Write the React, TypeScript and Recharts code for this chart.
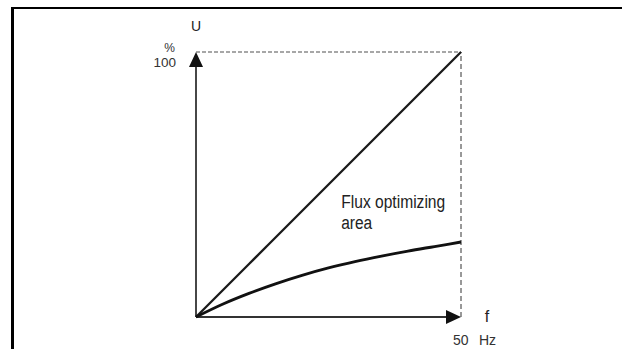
import {
  LineChart,
  Line,
  XAxis,
  YAxis,
  ReferenceLine,
  ReferenceDot,
} from "recharts";

// frequency in Hz, voltage in % of nominal
const frequency = [0, 5, 10, 15, 20, 25, 30, 35, 40, 45, 50];
const linearU = [0, 10, 20, 30, 40, 50, 60, 70, 80, 90, 100];
const fluxOptimizedU = [0, 4.8, 8.9, 12.5, 15.7, 18.5, 20.9, 23.0, 24.9, 26.6, 28.3];

const maxFreq = 50;
const maxU = 100;

const data = frequency.map((f, i) => ({
  f,
  linear: linearU[i],
  flux: fluxOptimizedU[i],
}));

const labelFont = "'Liberation Sans', Arial, sans-serif";

const UpArrow = ({ cx, cy }: any) => (
  <g>
    <polygon points={`${cx},${cy} ${cx - 7},${cy + 15} ${cx + 7},${cy + 15}`} fill="#111" />
    <text x={cx} y={cy - 21} textAnchor="middle" fontSize={14} fill="#222" fontFamily={labelFont}>
      U
    </text>
    <text x={cx - 21} y={cy} textAnchor="end" fontSize={12} fill="#333" fontFamily={labelFont}>
      %
    </text>
    <text x={cx - 20} y={cy + 15} textAnchor="end" fontSize={13.5} fill="#333" fontFamily={labelFont}>
      {maxU}
    </text>
  </g>
);

const RightArrow = ({ cx, cy }: any) => (
  <g>
    <polygon points={`${cx},${cy} ${cx - 15},${cy - 7} ${cx - 15},${cy + 7}`} fill="#111" />
    <text x={cx + 26} y={cy + 5} textAnchor="middle" fontSize={16} fill="#222" fontFamily={labelFont}>
      f
    </text>
    <text x={cx - 8} y={cy + 28} textAnchor="start" fontSize={14} fill="#333" fontFamily={labelFont}>
      {maxFreq}
    </text>
    <text x={cx + 18} y={cy + 28} textAnchor="start" fontSize={14} fill="#333" fontFamily={labelFont}>
      Hz
    </text>
  </g>
);

const AreaNote = ({ cx, cy }: any) => (
  <g fontFamily={labelFont} fontSize={18} fill="#222">
    <text x={cx} y={cy} textLength={104} lengthAdjust="spacingAndGlyphs">
      Flux optimizing
    </text>
    <text x={cx} y={cy + 21} textLength={31} lengthAdjust="spacingAndGlyphs">
      area
    </text>
  </g>
);

export default function App() {
  return (
    <div
      style={{
        position: "absolute",
        left: 0,
        top: 0,
        width: 622,
        height: 349,
        background: "#fff",
        overflow: "hidden",
      }}
    >
      <div
        style={{
          position: "absolute",
          left: 11,
          top: 7,
          right: -5,
          bottom: -5,
          borderTop: "2px solid #000",
          borderLeft: "3px solid #000",
        }}
      />
      <LineChart
        width={622}
        height={349}
        data={data}
        margin={{ top: 52, right: 161, bottom: 32, left: 196 }}
        style={{ position: "absolute", left: 0, top: 0 }}
      >
        <XAxis dataKey="f" type="number" domain={[0, maxFreq]} hide />
        <YAxis type="number" domain={[0, maxU]} hide />

        {/* dashed guides at 100 % and 50 Hz */}
        <ReferenceLine
          segment={[
            { x: 0, y: maxU },
            { x: maxFreq, y: maxU },
          ]}
          stroke="#8a8a8a"
          strokeWidth={1.5}
          strokeDasharray="4 2"
        />
        <ReferenceLine
          segment={[
            { x: maxFreq, y: 0 },
            { x: maxFreq, y: maxU },
          ]}
          stroke="#333"
          strokeWidth={1}
          strokeDasharray="5 3"
        />

        {/* axes */}
        <ReferenceLine
          segment={[
            { x: 0, y: 0 },
            { x: 0, y: maxU - 3 },
          ]}
          stroke="#333"
          strokeWidth={1.8}
        />
        <ReferenceLine
          segment={[
            { x: 0, y: 0 },
            { x: maxFreq - 2, y: 0 },
          ]}
          stroke="#333"
          strokeWidth={1.8}
        />

        <Line
          dataKey="linear"
          type="linear"
          stroke="#1a1a1a"
          strokeWidth={2.3}
          dot={false}
          isAnimationActive={false}
        />
        <Line
          dataKey="flux"
          type="monotone"
          stroke="#111"
          strokeWidth={2.8}
          dot={false}
          isAnimationActive={false}
        />

        <ReferenceDot x={0} y={maxU} shape={UpArrow} />
        <ReferenceDot x={maxFreq} y={0} shape={RightArrow} />
        <ReferenceDot x={27.4} y={41} shape={AreaNote} />
      </LineChart>
    </div>
  );
}
